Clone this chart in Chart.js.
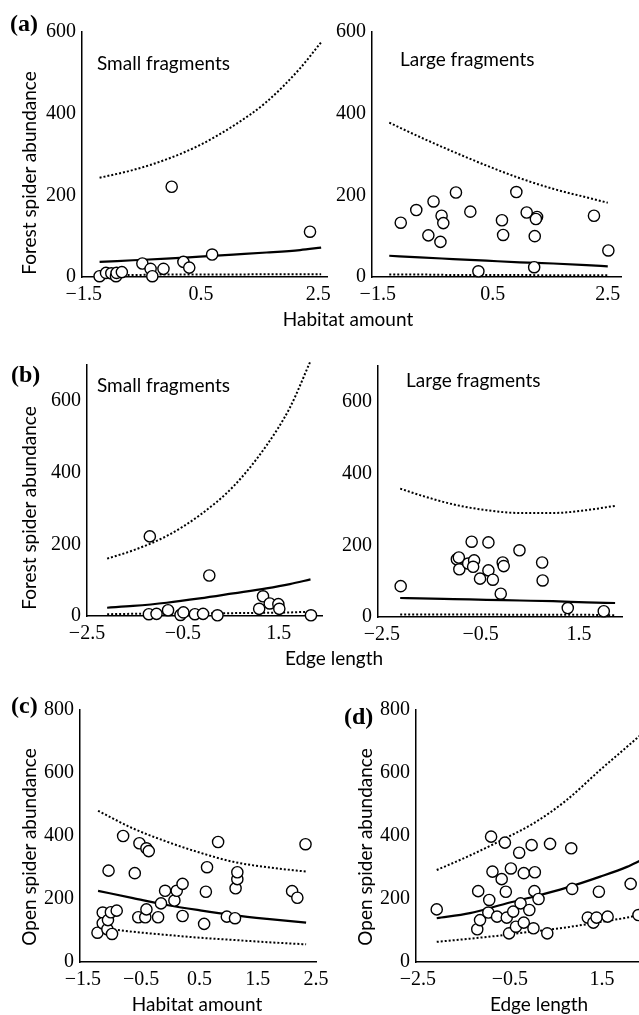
<!DOCTYPE html>
<html>
<head>
<meta charset="utf-8">
<script src="https://cdn.jsdelivr.net/npm/chart.js@4.4.1/dist/chart.umd.min.js"></script>
<style>
  body { margin: 0; width: 639px; height: 1015px; overflow: hidden; background: #fff; position: relative; }
  canvas { position: absolute; }
  .t { position: absolute; font-family: Lato, "Open Sans", sans-serif; font-size: 19px; line-height: 1; color: #000; white-space: nowrap; }
  .mid { transform: translate(-50%, -50%); }
  .lft { transform: translateY(-50%); }
  .rot { transform: translate(-50%, -50%) rotate(-90deg); }
  .let { font-family: "Liberation Serif", serif; font-weight: bold; font-size: 24px; }
</style>
</head>
<body>
<canvas id="aL"></canvas>
<canvas id="aR"></canvas>
<canvas id="bL"></canvas>
<canvas id="bR"></canvas>
<canvas id="c"></canvas>
<canvas id="d"></canvas>

<div class="t let lft" style="left:10px;top:23px">(a)</div>
<div class="t let lft" style="left:11px;top:374px">(b)</div>
<div class="t let lft" style="left:11px;top:705px">(c)</div>
<div class="t let lft" style="left:344px;top:716px">(d)</div>

<div class="t lft" style="left:97px;top:62px">Small fragments</div>
<div class="t lft" style="left:400px;top:58px">Large fragments</div>
<div class="t lft" style="left:97px;top:384px">Small fragments</div>
<div class="t lft" style="left:406px;top:379px">Large fragments</div>

<div class="t rot" style="left:28px;top:173px">Forest spider abundance</div>
<div class="t rot" style="left:28px;top:508px">Forest spider abundance</div>
<div class="t rot" style="left:28px;top:847px">Open spider abundance</div>
<div class="t rot" style="left:364px;top:847px">Open spider abundance</div>

<div class="t mid" style="left:348px;top:318px">Habitat amount</div>
<div class="t mid" style="left:334px;top:657px">Edge length</div>
<div class="t mid" style="left:197px;top:1003px">Habitat amount</div>
<div class="t mid" style="left:539px;top:1003px">Edge length</div>

<script>
// tick labels
const habTicks = [-1.5, 0.5, 2.5];
const habLabels = ["\u22121.5", "0.5", "2.5"];
const habTicksC = [-1.5, -0.5, 0.5, 1.5, 2.5];
const habLabelsC = ["\u22121.5", "\u22120.5", "0.5", "1.5", "2.5"];
const edgeTicks = [-2.5, -0.5, 1.5];
const edgeLabels = ["\u22122.5", "\u22120.5", "1.5"];
const forestTicks = [0, 200, 400, 600];
const openTicks = [0, 200, 400, 600, 800];

// (a) small fragments, habitat amount
const aSmallX = [-1.23, -1.12, -1.03, -0.95, -0.94, -0.85, -0.50, -0.36, -0.33, -0.14, 0.00, 0.20, 0.30, 0.69, 2.36];
const aSmallY = [2, 10, 9, 2, 10, 12, 33, 20, 2, 20, 221, 37, 23, 55, 111];
const aSmallCurveX = [-1.23, -0.66, -0.09, 0.48, 1.05, 1.62, 2.19, 2.55];
const aSmallFit = [37, 41, 45, 50, 55, 60, 66, 72];
const aSmallHi = [243, 262, 288, 323, 370, 429, 511, 575];
const aSmallLo = [5, 5, 6, 6, 6, 7, 7, 7];

// (a) large fragments, habitat amount
const aLargeX = [-1.10, -0.83, -0.53, -0.62, -0.39, -0.36, -0.41, -0.14, 0.11, 0.25, 0.66, 0.68, 0.91, 1.09, 1.27, 1.25, 1.23, 1.22, 2.26, 2.51];
const aLargeY = [133, 164, 185, 102, 150, 132, 86, 207, 160, 14, 139, 103, 208, 158, 147, 142, 100, 24, 150, 65];
const aLargeCurveX = [-1.30, -0.77, -0.19, 0.39, 0.97, 1.55, 2.13, 2.50];
const aLargeFit = [52, 48, 44, 40, 36, 33, 29, 26];
const aLargeHi = [378, 343, 307, 273, 242, 216, 195, 182];
const aLargeLo = [6, 6, 5, 5, 5, 4, 4, 4];

// (b) small fragments, edge length
const bSmallX = [-1.19, 0.05, -1.21, -1.05, -0.81, -0.55, -0.49, -0.25, -0.08, 0.22, 1.09, 1.17, 1.31, 1.49, 1.51, 2.17];
const bSmallY = [222, 113, 5, 6, 16, 3, 10, 5, 6, 2, 20, 55, 35, 33, 20, 2];
const bSmallCurveX = [-2.08, -1.54, -0.84, -0.15, 0.55, 1.24, 1.73, 2.16];
const bSmallFit = [23, 28, 37, 49, 63, 77, 89, 102];
const bSmallHi = [160, 183, 223, 281, 361, 475, 581, 711];
const bSmallLo = [5, 6, 6, 7, 8, 9, 10, 12];

// (b) large fragments, edge length
const bLargeX = [-2.12, -0.98, -0.94, -0.93, -0.75, -0.68, -0.63, -0.65, -0.51, -0.34, -0.34, -0.25, -0.05, -0.03, -0.09, 0.29, 0.75, 0.76, 1.27, 2.00];
const bLargeY = [86, 161, 166, 133, 149, 210, 158, 140, 107, 208, 130, 104, 152, 142, 65, 186, 152, 102, 25, 16];
const bLargeCurveX = [-2.13, -1.73, -1.05, -0.38, 0.30, 0.97, 1.65, 2.23];
const bLargeFit = [53, 52, 50, 48, 46, 44, 41, 39];
const bLargeHi = [358, 340, 314, 298, 290, 290, 298, 310];
const bLargeLo = [7, 7, 7, 7, 6, 6, 6, 5];

// (c) open spiders, habitat amount
const cX = [-1.25, -1.16, -1.16, -1.08, -1.07, -1.00, -1.02, -0.92, -1.06, -0.81, -0.61, -0.53, -0.41, -0.37, -0.55, -0.43, -0.41, -0.21, -0.16, -0.09, 0.07, 0.11, 0.21, 0.21, 0.58, 0.61, 0.63, 0.82, 0.97, 1.11, 1.12, 1.15, 1.15, 2.09, 2.18, 2.32];
const cY = [93, 157, 123, 104, 133, 89, 158, 163, 290, 400, 282, 377, 361, 352, 142, 142, 167, 142, 186, 226, 195, 226, 248, 146, 121, 223, 301, 381, 144, 139, 234, 263, 285, 225, 204, 374];
const cCurveX = [-1.24, -0.64, -0.06, 0.51, 1.08, 1.66, 2.33];
const cFit = [226, 203, 181, 164, 149, 137, 125];
const cHi = [480, 424, 382, 347, 318, 301, 287];
const cLo = [110, 96, 86, 77, 70, 63, 56];

// (d) open spiders, edge length
const dX = [-2.09, -1.19, -1.21, -1.15, -0.95, -0.97, -0.91, -0.88, -0.68, -0.78, -0.61, -0.59, -0.57, -0.52, -0.48, -0.43, -0.37, -0.30, -0.27, -0.20, -0.20, -0.08, -0.03, 0.01, 0.04, 0.03, 0.12, 0.31, 0.37, 0.83, 0.85, 1.19, 1.31, 1.38, 1.43, 1.62, 2.12, 2.29];
const dY = [167, 225, 104, 133, 197, 157, 398, 287, 263, 144, 379, 223, 141, 91, 297, 160, 112, 347, 186, 282, 125, 165, 371, 107, 285, 225, 200, 91, 375, 361, 232, 141, 125, 141, 223, 144, 248, 149];
const dCurveX = [-2.09, -1.37, -0.60, 0.01, 0.73, 1.46, 2.04, 2.33];
const dFit = [139, 155, 185, 207, 236, 271, 302, 322];
const dHi = [292, 338, 393, 440, 514, 610, 683, 720];
const dLo = [64, 74, 86, 97, 110, 127, 141, 150];

const tickFont = { family: "'Liberation Serif', 'Times New Roman', serif", size: 20 };

function pairs(xs, ys) {
  return xs.map((x, i) => ({ x: x, y: ys[i] }));
}

function lineSet(xs, ys, dashed) {
  return {
    data: pairs(xs, ys),
    showLine: true,
    borderColor: "#000",
    borderWidth: dashed ? 2 : 2.2,
    borderDash: dashed ? [2, 2] : [],
    pointRadius: 0,
    cubicInterpolationMode: "monotone",
    clip: false
  };
}

// box = plot area edges in page pixels (axis lines)
function makePanel(id, box, p) {
  const cv = document.getElementById(id);
  const w = box.r - box.l + 80, h = box.b - box.t + 50;
  cv.width = w; cv.height = h;
  cv.style.left = (box.l - 60) + "px";
  cv.style.top = (box.t - 20) + "px";
  cv.style.width = w + "px";
  cv.style.height = h + "px";

  return new Chart(cv, {
    type: "scatter",
    data: {
      datasets: [
        {
          data: pairs(p.xs, p.ys),
          pointRadius: 5.6,
          pointBackgroundColor: "#fff",
          pointBorderColor: "#000",
          pointBorderWidth: 1.4,
          clip: false
        },
        lineSet(p.cx, p.fit, false),
        lineSet(p.cx, p.hi, true),
        lineSet(p.cx, p.lo, true)
      ]
    },
    options: {
      responsive: false,
      animation: false,
      events: [],
      layout: { padding: { top: 20, right: 20, left: 0, bottom: 0 } },
      plugins: { legend: { display: false }, tooltip: { enabled: false } },
      scales: {
        x: {
          type: "linear",
          min: p.xMin, max: p.xMax,
          grid: { display: false, drawTicks: false },
          border: { display: true, color: "#000", width: 1.5 },
          ticks: {
            font: tickFont, color: "#000", padding: 6, autoSkip: false, maxRotation: 0,
            callback: (v, i) => p.xLabels[i]
          },
          afterBuildTicks: s => { s.ticks = p.xTicks.map(v => ({ value: v })); },
          afterFit: s => { s.height = 30; }
        },
        y: {
          type: "linear",
          min: 0, max: p.yMax,
          grid: { display: false, drawTicks: false },
          border: { display: true, color: "#000", width: 1.5 },
          ticks: {
            font: tickFont, color: "#000", padding: 6, autoSkip: false,
            callback: v => String(v)
          },
          afterBuildTicks: s => { s.ticks = p.yTicks.map(v => ({ value: v })); },
          afterFit: s => { s.width = 60; }
        }
      }
    }
  });
}

makePanel("aL", { l: 82, t: 32, r: 327, b: 277 }, {
  xs: aSmallX, ys: aSmallY, cx: aSmallCurveX, fit: aSmallFit, hi: aSmallHi, lo: aSmallLo,
  xMin: -1.53, xMax: 2.65, yMax: 600, xTicks: habTicks, xLabels: habLabels, yTicks: forestTicks
});
makePanel("aR", { l: 372, t: 32, r: 621, b: 277 }, {
  xs: aLargeX, ys: aLargeY, cx: aLargeCurveX, fit: aLargeFit, hi: aLargeHi, lo: aLargeLo,
  xMin: -1.60, xMax: 2.73, yMax: 600, xTicks: habTicks, xLabels: habLabels, yTicks: forestTicks
});
makePanel("bL", { l: 87, t: 365, r: 322, b: 616 }, {
  xs: bSmallX, ys: bSmallY, cx: bSmallCurveX, fit: bSmallFit, hi: bSmallHi, lo: bSmallLo,
  xMin: -2.5, xMax: 2.4, yMax: 700, xTicks: edgeTicks, xLabels: edgeLabels, yTicks: forestTicks
});
makePanel("bR", { l: 378, t: 366, r: 622, b: 617 }, {
  xs: bLargeX, ys: bLargeY, cx: bLargeCurveX, fit: bLargeFit, hi: bLargeHi, lo: bLargeLo,
  xMin: -2.58, xMax: 2.37, yMax: 700, xTicks: edgeTicks, xLabels: edgeLabels, yTicks: forestTicks
});
makePanel("c", { l: 80, t: 710, r: 316, b: 962 }, {
  xs: cX, ys: cY, cx: cCurveX, fit: cFit, hi: cHi, lo: cLo,
  xMin: -1.55, xMax: 2.5, yMax: 800, xTicks: habTicksC, xLabels: habLabelsC, yTicks: openTicks
});
makePanel("d", { l: 416, t: 710, r: 650, b: 962 }, {
  xs: dX, ys: dY, cx: dCurveX, fit: dFit, hi: dHi, lo: dLo,
  xMin: -2.54, xMax: 2.54, yMax: 800, xTicks: edgeTicks, xLabels: edgeLabels, yTicks: openTicks
});
</script>
</body>
</html>
